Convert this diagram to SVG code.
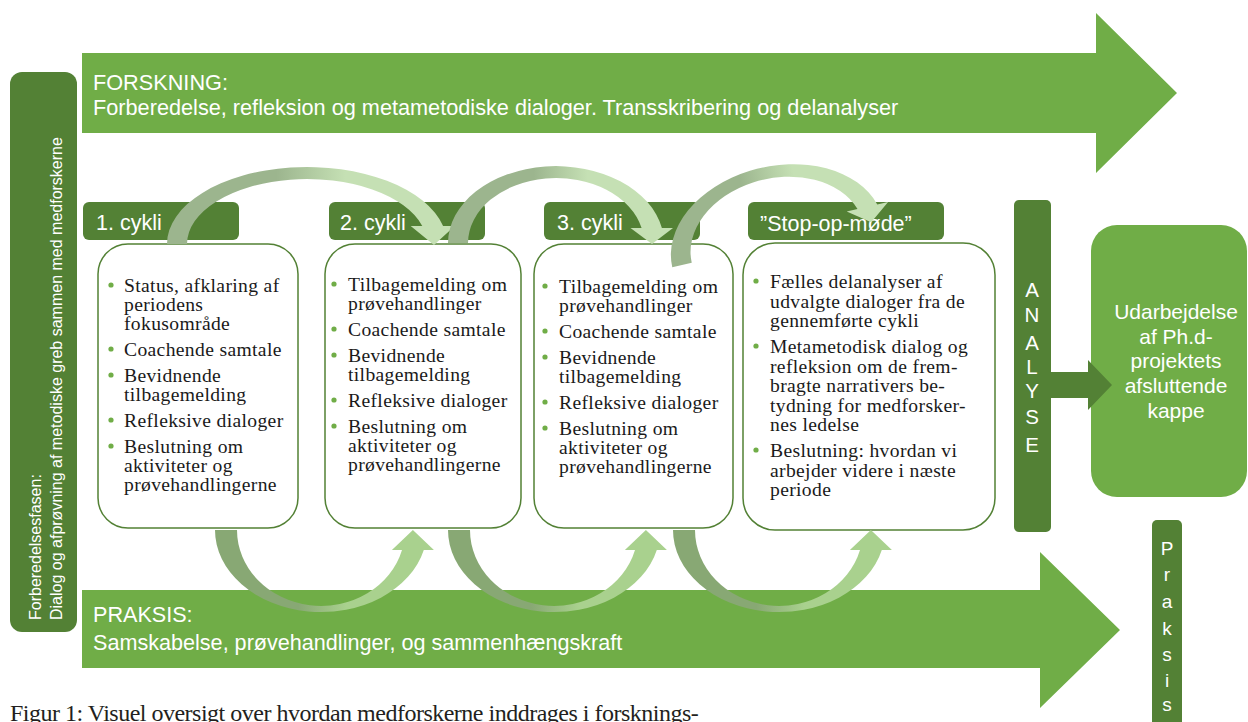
<svg xmlns="http://www.w3.org/2000/svg" width="1248" height="722" viewBox="0 0 1248 722">
<defs>
<style>
.mid{fill:#70AD47}
.dark{fill:#538135}
.box{fill:#fff;stroke:#538135;stroke-width:1.5}
.wt{font-family:"Liberation Sans",Arial,sans-serif;fill:#fff}
.body{font-family:"Liberation Serif","Times New Roman",serif;font-size:19.6px;fill:#1a1a1a;letter-spacing:0.35px}
.bul{fill:#70AD47}
.ctr{text-anchor:middle}
</style>
<linearGradient id="gTop" x1="0" y1="0" x2="1" y2="0">
<stop offset="0.38" stop-color="#9CB58E"/>
<stop offset="0.62" stop-color="#C5E0B4"/>
</linearGradient>
<linearGradient id="gBot" x1="0" y1="0" x2="1" y2="0">
<stop offset="0.38" stop-color="#88A874"/>
<stop offset="0.6" stop-color="#A9D18E"/>
</linearGradient>
</defs>
<rect width="1248" height="722" fill="#fff"/>

<g id="forskning">
<polygon class="mid" points="82,53 1096,53 1096,13 1177,93 1096,173 1096,133 82,133"/>
<text class="wt" font-size="21.7" x="93" y="90">FORSKNING:</text>
<text class="wt" font-size="21.7" x="93" y="115">Forberedelse, refleksion og metametodiske dialoger. Transskribering og delanalyser</text>
</g>

<g id="praksis">
<polygon class="mid" points="82,590 1040,590 1040,552 1120,630 1040,708 1040,668 82,668"/>
<text class="wt" font-size="21.6" x="93" y="622">PRAKSIS:</text>
<text class="wt" font-size="21.6" x="93" y="650">Samskabelse, prøvehandlinger, og sammenhængskraft</text>
</g>

<g id="forberedelse">
<rect class="dark" x="10" y="72" width="67" height="560" rx="12"/>
<text class="wt" font-size="16" transform="translate(41,620) rotate(-90)">Forberedelsesfasen:</text>
<text class="wt" font-size="16" transform="translate(62,620) rotate(-90)">Dialog og afprøvning af metodiske greb sammen med medforskerne</text>
</g>

<g id="cykli1">
<rect class="dark" x="83" y="202" width="156" height="38" rx="6"/>
<text class="wt" font-size="21.5" x="96" y="230">1. cykli</text>
<rect class="box" x="98" y="244" width="200" height="284" rx="30"/>
<g class="bul"><circle cx="111" cy="285" r="2.6"/><circle cx="111" cy="349" r="2.6"/><circle cx="111" cy="375" r="2.6"/><circle cx="111" cy="420" r="2.6"/><circle cx="111" cy="446" r="2.6"/></g>
<text class="body">
<tspan x="124" y="292">Status, afklaring af</tspan>
<tspan x="124" y="311">periodens</tspan>
<tspan x="124" y="330">fokusområde</tspan>
<tspan x="124" y="356">Coachende samtale</tspan>
<tspan x="124" y="382">Bevidnende</tspan>
<tspan x="124" y="401">tilbagemelding</tspan>
<tspan x="124" y="427">Refleksive dialoger</tspan>
<tspan x="124" y="453">Beslutning om</tspan>
<tspan x="124" y="472">aktiviteter og</tspan>
<tspan x="124" y="491">prøvehandlingerne</tspan>
</text>
</g>

<g id="cykli2">
<rect class="dark" x="329" y="202" width="156" height="38" rx="6"/>
<text class="wt" font-size="21.5" x="340" y="230">2. cykli</text>
<rect class="box" x="325" y="244" width="196" height="284" rx="30"/>
<g class="bul"><circle cx="334" cy="284" r="2.6"/><circle cx="334" cy="329" r="2.6"/><circle cx="334" cy="355" r="2.6"/><circle cx="334" cy="400" r="2.6"/><circle cx="334" cy="426" r="2.6"/></g>
<text class="body">
<tspan x="348" y="291">Tilbagemelding om</tspan>
<tspan x="348" y="310">prøvehandlinger</tspan>
<tspan x="348" y="336">Coachende samtale</tspan>
<tspan x="348" y="362">Bevidnende</tspan>
<tspan x="348" y="381">tilbagemelding</tspan>
<tspan x="348" y="407">Refleksive dialoger</tspan>
<tspan x="348" y="433">Beslutning om</tspan>
<tspan x="348" y="452">aktiviteter og</tspan>
<tspan x="348" y="471">prøvehandlingerne</tspan>
</text>
</g>

<g id="cykli3">
<rect class="dark" x="544" y="202" width="156" height="38" rx="6"/>
<text class="wt" font-size="21.5" x="557" y="230">3. cykli</text>
<rect class="box" x="534" y="244" width="199" height="284" rx="30"/>
<g class="bul"><circle cx="545" cy="286" r="2.6"/><circle cx="545" cy="331" r="2.6"/><circle cx="545" cy="357" r="2.6"/><circle cx="545" cy="402" r="2.6"/><circle cx="545" cy="428" r="2.6"/></g>
<text class="body">
<tspan x="559" y="293">Tilbagemelding om</tspan>
<tspan x="559" y="312">prøvehandlinger</tspan>
<tspan x="559" y="338">Coachende samtale</tspan>
<tspan x="559" y="364">Bevidnende</tspan>
<tspan x="559" y="383">tilbagemelding</tspan>
<tspan x="559" y="409">Refleksive dialoger</tspan>
<tspan x="559" y="435">Beslutning om</tspan>
<tspan x="559" y="454">aktiviteter og</tspan>
<tspan x="559" y="473">prøvehandlingerne</tspan>
</text>
</g>

<g id="stopop">
<rect class="dark" x="748" y="202" width="196" height="38" rx="6"/>
<text class="wt" font-size="21.5" x="760" y="231">”Stop-op-møde”</text>
<rect class="box" x="743" y="243" width="252" height="287" rx="32"/>
<g class="bul"><circle cx="756" cy="281" r="2.6"/><circle cx="756" cy="346" r="2.6"/><circle cx="756" cy="450" r="2.6"/></g>
<text class="body">
<tspan x="770" y="288">Fælles delanalyser af</tspan>
<tspan x="770" y="307.5">udvalgte dialoger fra de</tspan>
<tspan x="770" y="327">gennemførte cykli</tspan>
<tspan x="770" y="353">Metametodisk dialog og</tspan>
<tspan x="770" y="372.5">refleksion om de frem-</tspan>
<tspan x="770" y="392">bragte narrativers be-</tspan>
<tspan x="770" y="411.5">tydning for medforsker-</tspan>
<tspan x="770" y="431">nes ledelse</tspan>
<tspan x="770" y="457">Beslutning: hvordan vi</tspan>
<tspan x="770" y="476.5">arbejder videre i næste</tspan>
<tspan x="770" y="496">periode</tspan>
</text>
</g>

<g id="analyse">
<rect class="dark" x="1014" y="200" width="37" height="332" rx="5"/>
<g class="wt ctr" font-size="20.5">
<text x="1032" y="297">A</text>
<text x="1032" y="322">N</text>
<text x="1032" y="350">A</text>
<text x="1032" y="374">L</text>
<text x="1032" y="398">Y</text>
<text x="1032" y="424">S</text>
<text x="1032" y="452">E</text>
</g>
</g>

<g id="udarbejdelse">
<rect class="mid" x="1091" y="225" width="156" height="272" rx="26"/>
<g class="wt ctr" font-size="21">
<text x="1176" y="319">Udarbejdelse</text>
<text x="1176" y="344">af Ph.d-</text>
<text x="1176" y="368">projektets</text>
<text x="1176" y="393">afsluttende</text>
<text x="1176" y="418">kappe</text>
</g>
</g>

<g id="praksis-bar">
<rect class="dark" x="1152" y="520" width="30" height="215" rx="5"/>
<g class="wt ctr" font-size="19">
<text x="1167" y="555">P</text>
<text x="1167" y="581">r</text>
<text x="1167" y="608">a</text>
<text x="1167" y="635">k</text>
<text x="1167" y="661">s</text>
<text x="1167" y="687">i</text>
<text x="1167" y="711">s</text>
</g>
</g>

<g id="connectors">
<path fill="url(#gTop)" d="M167,244 A140,77 0 0 1 443.1,226 L454.7,226 L434,245 L410.7,226 L422.3,226 A120,65 0 0 0 187,244 Z"/>
<path fill="url(#gTop)" d="M448,243 A108,77 0 0 1 661.9,228 L673,228 L652,244 L630.5,228 L641.6,228 A88,65 0 0 0 468,243 Z"/>
<path fill="url(#gTop)" transform="translate(682,265) rotate(-13) translate(-458,-243)" d="M448,243 A108,77 0 0 1 661.9,228 L673,228 L652,244 L630.5,228 L641.6,228 A88,65 0 0 0 468,243 Z"/>
<path fill="url(#gBot)" d="M215,530 A106,82 0 0 0 423.8,550 L433.9,550 L412.9,530 L391.9,550 L402,550 A84,76 0 0 1 237,530 Z"/>
<path fill="url(#gBot)" d="M448,530 A106,82 0 0 0 656.8,550 L666.9,550 L645.9,530 L624.9,550 L635,550 A84,76 0 0 1 470,530 Z"/>
<path fill="url(#gBot)" d="M673,530 A106,82 0 0 0 881.8,550 L891.9,550 L870.9,530 L849.9,550 L860,550 A84,76 0 0 1 695,530 Z"/>
<polygon class="dark" points="1050,372 1088,372 1088,360 1112,385 1088,410 1088,398 1050,398"/>
</g>

<text id="caption" x="10" y="721" font-family="'Liberation Serif','Times New Roman',serif" font-size="24" letter-spacing="-0.5" fill="#231F20">Figur 1: Visuel oversigt over hvordan medforskerne inddrages i forsknings-</text>
</svg>
